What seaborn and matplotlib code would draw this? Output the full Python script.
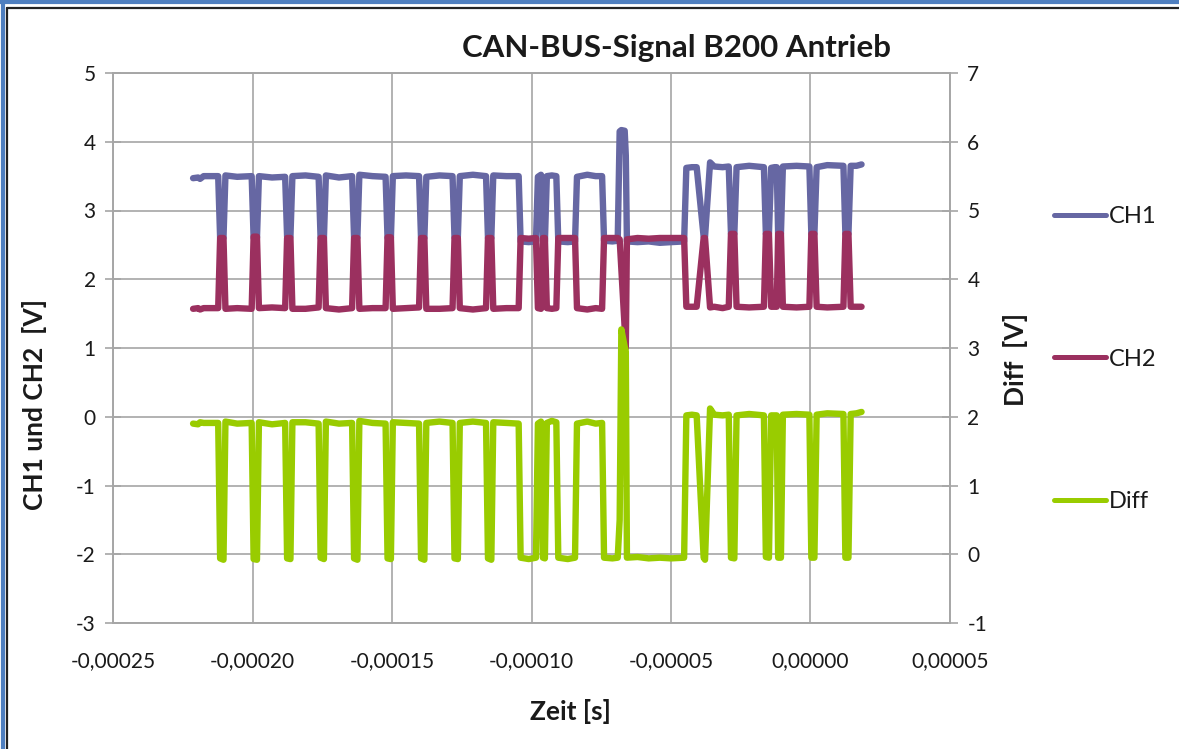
import matplotlib
matplotlib.use("Agg")
import matplotlib.pyplot as plt
from matplotlib.ticker import FuncFormatter, FixedLocator
from matplotlib.lines import Line2D
import pandas as pd
import seaborn as sns

# ---------------- data ----------------
# time in microseconds
time_us = [
    -221.3, -219.5, -218.8, -217.5,
    -212.3, -211.6, -210.4, -209.7, -205.5,
    -200.3, -199.6, -198.4, -197.7, -193.0,
    -188.3, -187.6, -186.4, -185.7, -181.0,
    -176.3, -175.6, -174.4, -173.7, -169.0,
    -164.3, -163.6, -162.4, -161.7, -157.0,
    -152.3, -151.6, -150.4, -149.7, -145.0,
    -140.3, -139.6, -138.4, -137.7, -133.0,
    -128.3, -127.6, -126.4, -125.7, -121.0,
    -116.3, -115.6, -114.4, -113.7, -109.0,
    -104.6, -103.9, -101.0, -98.4,
    -97.7, -96.6, -95.9, -95.2,
    -94.5, -92.7, -91.1, -90.4, -87.0, -84.4,
    -83.7, -80.0, -77.0, -74.7, -74.0, -71.0, -69.1,
    -68.4, -67.8, -66.6, -66.2, -65.8,
    -62.0, -58.0, -54.0, -50.0, -45.3,
    -44.5, -42.5, -40.8, -38.3, -37.8, -36.0, -34.5, -31.5,
    -29.3, -28.5, -27.3, -26.5, -22.0,
    -16.7, -16.0, -14.9, -14.1, -12.9,
    -12.1, -11.6, -10.6, -9.9, -5.0,
    -0.4, 0.3, 1.4, 2.2, 6.0,
    11.8, 12.5, 13.6, 14.4, 16.5, 18.3,
]
ch1 = [
    3.47, 3.48, 3.46, 3.50,
    3.50, 2.60, 2.60, 3.51, 3.49,
    3.50, 2.60, 2.60, 3.50, 3.48,
    3.49, 2.62, 2.62, 3.50, 3.51,
    3.49, 2.60, 2.60, 3.51, 3.48,
    3.50, 2.61, 2.61, 3.52, 3.50,
    3.49, 2.60, 2.60, 3.50, 3.51,
    3.50, 2.60, 2.60, 3.49, 3.51,
    3.50, 2.61, 2.61, 3.50, 3.52,
    3.50, 2.60, 2.60, 3.51, 3.50,
    3.50, 2.55, 2.54, 2.55,
    3.49, 3.52, 2.56, 2.55,
    3.50, 3.51, 3.50, 2.55, 2.54, 2.55,
    3.49, 3.52, 3.50, 3.50, 2.56, 2.55, 2.56,
    4.15, 4.17, 4.16, 3.80, 2.55,
    2.54, 2.55, 2.53, 2.54, 2.55,
    3.62, 3.63, 3.63, 2.62, 2.62, 3.70, 3.64, 3.63,
    3.64, 2.66, 2.66, 3.63, 3.65,
    3.63, 2.66, 2.66, 3.62, 3.63,
    3.63, 2.66, 2.66, 3.64, 3.65,
    3.64, 2.66, 2.66, 3.63, 3.66,
    3.65, 2.66, 2.66, 3.65, 3.65, 3.67,
]
ch2 = [
    1.57, 1.58, 1.56, 1.58,
    1.58, 2.60, 2.60, 1.57, 1.58,
    1.57, 2.62, 2.62, 1.58, 1.59,
    1.58, 2.60, 2.60, 1.57, 1.57,
    1.59, 2.60, 2.60, 1.58, 1.56,
    1.58, 2.60, 2.60, 1.57, 1.58,
    1.58, 2.61, 2.61, 1.57, 1.58,
    1.59, 2.60, 2.60, 1.57, 1.57,
    1.58, 2.60, 2.60, 1.58, 1.56,
    1.58, 2.60, 2.60, 1.57, 1.58,
    1.58, 2.60, 2.59, 2.60,
    1.58, 1.57, 2.60, 2.60,
    1.58, 1.57, 1.58, 2.60, 2.60, 2.60,
    1.58, 1.56, 1.58, 1.57, 2.60, 2.60, 2.60,
    2.58, 2.15, 1.29, 1.00, 2.58,
    2.60, 2.59, 2.60, 2.60, 2.60,
    1.60, 1.60, 1.60, 2.60, 2.60, 1.59, 1.60, 1.58,
    1.60, 2.66, 2.66, 1.60, 1.59,
    1.60, 2.66, 2.66, 1.60, 1.60,
    1.60, 2.66, 2.66, 1.60, 1.59,
    1.60, 2.66, 2.66, 1.60, 1.59,
    1.60, 2.66, 2.66, 1.60, 1.60, 1.60,
]
diff = [
    1.90, 1.89, 1.92, 1.91,
    1.91, -0.06, -0.08, 1.93, 1.90,
    1.91, -0.07, -0.08, 1.92, 1.89,
    1.91, -0.06, -0.07, 1.92, 1.92,
    1.90, -0.05, -0.07, 1.93, 1.90,
    1.91, -0.06, -0.08, 1.94, 1.91,
    1.90, -0.06, -0.07, 1.92, 1.91,
    1.90, -0.06, -0.08, 1.91, 1.93,
    1.91, -0.06, -0.07, 1.91, 1.93,
    1.91, -0.06, -0.08, 1.92, 1.91,
    1.90, -0.05, -0.07, -0.05,
    1.90, 1.93, -0.05, -0.06,
    1.91, 1.94, 1.92, -0.05, -0.07, -0.05,
    1.90, 1.93, 1.90, 1.91, -0.05, -0.06, -0.05,
    0.50, 3.27, 3.02, 2.95, -0.05,
    -0.04, -0.06, -0.05, -0.06, -0.05,
    2.02, 2.03, 2.02, -0.05, -0.08, 2.12, 2.03, 2.02,
    2.03, -0.05, -0.06, 2.02, 2.04,
    2.02, -0.04, -0.05, 2.02, 2.02,
    2.02, -0.05, -0.05, 2.03, 2.04,
    2.03, -0.05, -0.05, 2.03, 2.05,
    2.04, -0.05, -0.05, 2.04, 2.05, 2.07,
]
series_names = ["CH1", "CH2", "Diff"]
x_ticks = [-0.00025, -0.00020, -0.00015, -0.00010, -0.00005, 0.0, 0.00005]
left_ticks = [-3, -2, -1, 0, 1, 2, 3, 4, 5]
right_ticks = [-1, 0, 1, 2, 3, 4, 5, 6, 7]
title = "CAN-BUS-Signal B200 Antrieb"
x_label = "Zeit [s]"
y_label_left = "CH1 und CH2  [V]"
y_label_right = "Diff  [V]"

# ---------------- styling ----------------
colors = {"CH1": "#6667A3", "CH2": "#9B305F", "Diff": "#99CC00"}
grid_col = "#A6A6A6"
text_col = "#1a1a1a"
sns.set_style("white")
plt.rcParams["font.family"] = ["Lato", "DejaVu Sans"]

df = pd.DataFrame({"t": [v * 1e-6 for v in time_us],
                   "CH1": ch1, "CH2": ch2, "Diff": diff})

W, H = 1179, 749
fig = plt.figure(figsize=(W / 100, H / 100), dpi=100)
fig.patch.set_facecolor("white")
L, R, T, B = 113, 950, 73, 623
ax = fig.add_axes([L / W, 1 - B / H, (R - L) / W, (B - T) / H])
ax2 = ax.twinx()

lw = 4.6
sns.lineplot(data=df, x="t", y="CH1", ax=ax, color=colors["CH1"], linewidth=lw,
             estimator=None, sort=False, legend=False, zorder=3)
sns.lineplot(data=df, x="t", y="CH2", ax=ax, color=colors["CH2"], linewidth=lw,
             estimator=None, sort=False, legend=False, zorder=4)
sns.lineplot(data=df, x="t", y="Diff", ax=ax2, color=colors["Diff"], linewidth=lw,
             estimator=None, sort=False, legend=False, zorder=3)

ax.set_xlim(x_ticks[0], x_ticks[-1])
ax.set_ylim(left_ticks[0], left_ticks[-1])
ax2.set_ylim(right_ticks[0], right_ticks[-1])

ax.xaxis.set_major_locator(FixedLocator(x_ticks))
ax.yaxis.set_major_locator(FixedLocator(left_ticks))
ax2.yaxis.set_major_locator(FixedLocator(right_ticks))


def fmt_x(v, pos):
    s = f"{v:.5f}".replace(".", ",")
    if s == "-0,00000":
        s = "0,00000"
    return s


ax.xaxis.set_major_formatter(FuncFormatter(fmt_x))
ax.yaxis.set_major_formatter(FuncFormatter(lambda v, p: f"{int(round(v))}"))
ax2.yaxis.set_major_formatter(FuncFormatter(lambda v, p: f"{int(round(v))}"))

ax.grid(True, color=grid_col, linewidth=1.2)
ax.set_axisbelow(True)
for a in (ax, ax2):
    for sp in a.spines.values():
        sp.set_color(grid_col)
        sp.set_linewidth(1.2)

tick_fs = 15
ax.tick_params(axis="both", direction="inout", length=11, width=1.2,
               color=grid_col, labelsize=tick_fs, labelcolor=text_col)
ax.tick_params(axis="y", pad=7)
ax.tick_params(axis="x", pad=15)
ax2.tick_params(axis="y", direction="inout", length=11, width=1.2,
                color=grid_col, labelsize=tick_fs, labelcolor=text_col, pad=7)

lab_fs = 19
ax.set_xlabel(x_label, fontsize=lab_fs, fontweight="bold", va="center",
              color=text_col)
ax.xaxis.set_label_coords((570 - L) / (R - L), (B - 712) / (B - T))
ax.set_ylabel(y_label_left, fontsize=lab_fs, fontweight="bold", va="center",
              color=text_col)
ax.yaxis.set_label_coords((35 - L) / (R - L), (B - 405) / (B - T))
ax2.set_ylabel(y_label_right, fontsize=lab_fs, fontweight="bold", va="center",
               rotation=90, color=text_col)
ax2.yaxis.set_label_coords((1016 - L) / (R - L), (B - 360) / (B - T))

fig.text(676 / W, 1 - 48 / H, title, ha="center", va="center",
         fontsize=22.5, fontweight="bold", color=text_col)

handles = [Line2D([], [], color=colors[n], linewidth=3.6) for n in series_names]
fig.legend(handles, series_names, loc="center left",
           bbox_to_anchor=(1033 / W, 1 - 359 / H), frameon=False,
           fontsize=17, labelspacing=5.15, handlelength=2.2, handletextpad=0.1,
           labelcolor=text_col)

# outer frame (blue + dark line, as in the source screenshot)
fig.add_artist(Line2D([0, 1], [1 - 2 / H, 1 - 2 / H], transform=fig.transFigure,
                      color="#4F7FBF", linewidth=3))
fig.add_artist(Line2D([3 / W, 3 / W], [0, 1], transform=fig.transFigure,
                      color="#4F7FBF", linewidth=3))
fig.add_artist(Line2D([7 / W, 1], [1 - 8 / H, 1 - 8 / H], transform=fig.transFigure,
                      color="#222222", linewidth=1.6))
fig.add_artist(Line2D([7.5 / W, 7.5 / W], [0, 1 - 8 / H], transform=fig.transFigure,
                      color="#222222", linewidth=1.6))

fig.savefig("out.png", dpi=100, facecolor="white")
